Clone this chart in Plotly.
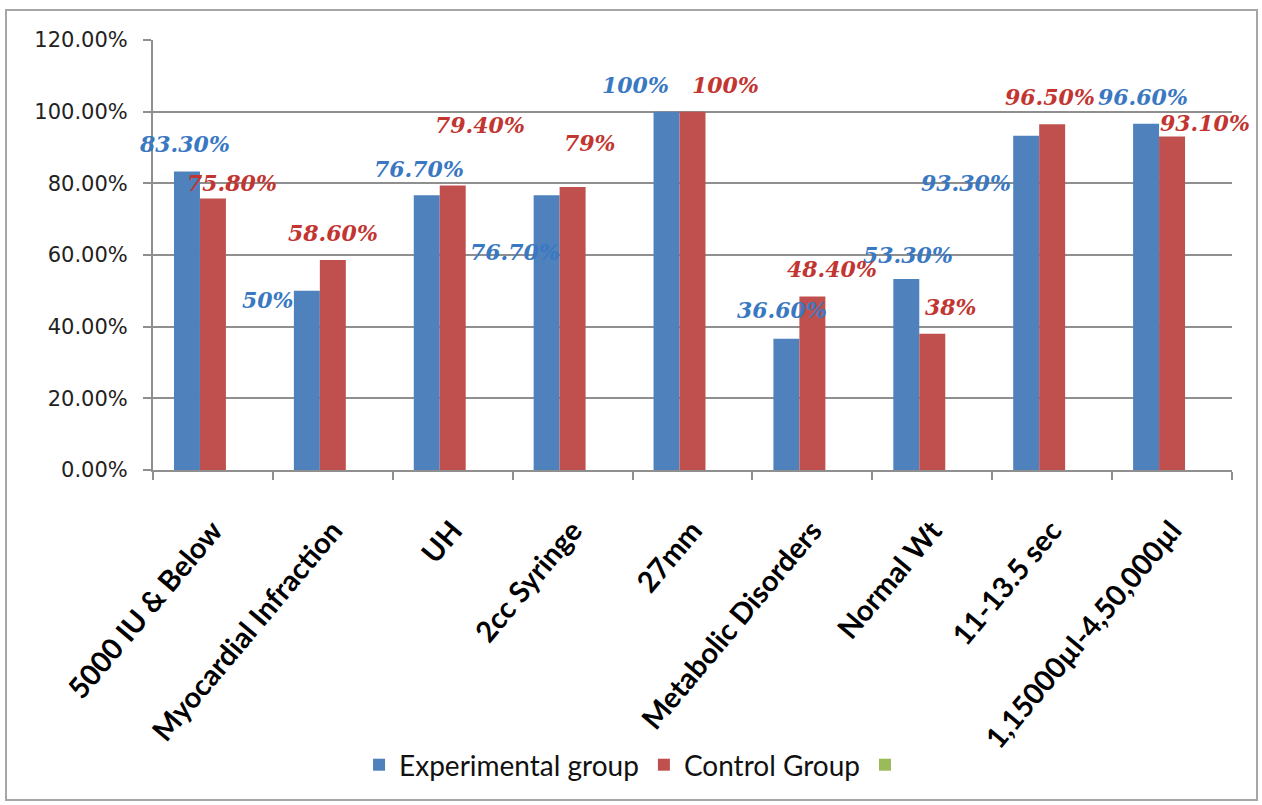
import plotly.graph_objects as go

categories = ["5000 IU & Below", "Myocardial Infraction", "UH", "2cc Syringe", "27mm",
              "Metabolic Disorders", "Normal Wt", "11-13.5 sec", "1,15000µl-4,50,000µl"]
experimental = [0.833, 0.50, 0.767, 0.767, 1.00, 0.366, 0.533, 0.933, 0.966]
control = [0.758, 0.586, 0.794, 0.79, 1.00, 0.484, 0.38, 0.965, 0.931]
third = [0, 0, 0, 0, 0, 0, 0, 0, 0]
exp_labels = ["83.30%", "50%", "76.70%", "76.70%", "100%", "36.60%", "53.30%", "93.30%", "96.60%"]
ctl_labels = ["75.80%", "58.60%", "79.40%", "79%", "100%", "48.40%", "38%", "96.50%", "93.10%"]

# label placement nudges (pixels, relative to bar top centre)
exp_nudge = [(-2, 28), (-39, -9), (-8, 26), (-32, -57), (-31, 27), (-4, 29), (2, 24), (-60, -47), (-3, 27)]
ctl_nudge = [(19, 15), (0, 27), (27, 60), (17, 44), (33, 27), (20, 28), (19, 27), (-2, 27), (33, 13)]

BLUE, RED, GREEN = "#4F81BD", "#C0504D", "#9BBB59"
BLUE_T, RED_T = "#3A78C2", "#C23531"
GRID = "#8f8f8f"

fig = go.Figure()
fig.add_trace(go.Bar(x=categories, y=experimental, name="Experimental group", marker_color=BLUE,
                     marker_line_width=0))
fig.add_trace(go.Bar(x=categories, y=control, name="Control Group", marker_color=RED,
                     marker_line_width=0))
fig.add_trace(go.Bar(x=categories, y=third, name=" ", marker_color=GREEN, marker_line_width=0))

BAR_PX = 26
lab_font = dict(family="DejaVu Serif", size=22, style="italic", weight="bold")
annotations = []
for cat, v, t, (dx, dy) in zip(categories, experimental, exp_labels, exp_nudge):
    annotations.append(dict(x=cat, y=v, xref="x", yref="y", text=t, showarrow=False,
                            xshift=-BAR_PX + dx, yshift=dy, yanchor="middle", xanchor="center",
                            font=dict(color=BLUE_T, **lab_font)))
for cat, v, t, (dx, dy) in zip(categories, control, ctl_labels, ctl_nudge):
    annotations.append(dict(x=cat, y=v, xref="x", yref="y", text=t, showarrow=False,
                            xshift=dx, yshift=dy, yanchor="middle", xanchor="center",
                            font=dict(color=RED_T, **lab_font)))

L, R, T, B = 153, 30, 40, 335
W, H = 1262, 805
pw, ph = W - L - R, H - T - B

fig.update_layout(
    width=W, height=H,
    margin=dict(l=L, r=R, t=T, b=B),
    paper_bgcolor="white", plot_bgcolor="white",
    barmode="group", bargap=0.35, bargroupgap=0,
    annotations=annotations,
    showlegend=True,
    legend=dict(orientation="h", x=0.45, xanchor="center", y=-(765 - (H - B)) / ph, yanchor="middle",
                font=dict(family="Lato", size=28, color="#111"), itemwidth=30,
                traceorder="normal"),
    shapes=[dict(type="rect", xref="paper", yref="paper",
                 x0=(6 - L) / pw, x1=(1257 - L) / pw,
                 y0=-(800 - (H - B)) / ph, y1=((H - B) - 10) / ph,
                 line=dict(color="#a6a6a6", width=2), fillcolor="rgba(0,0,0,0)", layer="below")],
)
fig.update_yaxes(range=[0, 1.2], dtick=0.2, tickformat=".2%", showgrid=True, gridcolor=GRID, gridwidth=2,
                 showline=True, linecolor=GRID, linewidth=2, ticks="outside", ticklen=8, tickcolor=GRID,
                 tickwidth=2, ticklabelstandoff=11, zeroline=False,
                 tickfont=dict(family="DejaVu Sans", size=21, color="#222"))
fig.update_xaxes(range=[-0.5, len(categories) - 0.5], showgrid=False, showline=True, linecolor=GRID,
                 linewidth=2, ticks="outside",
                 tickson="boundaries", ticklen=8, tickcolor=GRID, tickwidth=2, tickangle=-50,
                 tickfont=dict(family="Lato", size=29, color="#000", weight="bold"),
                 ticklabelstandoff=30)

fig.write_html("out.html")
